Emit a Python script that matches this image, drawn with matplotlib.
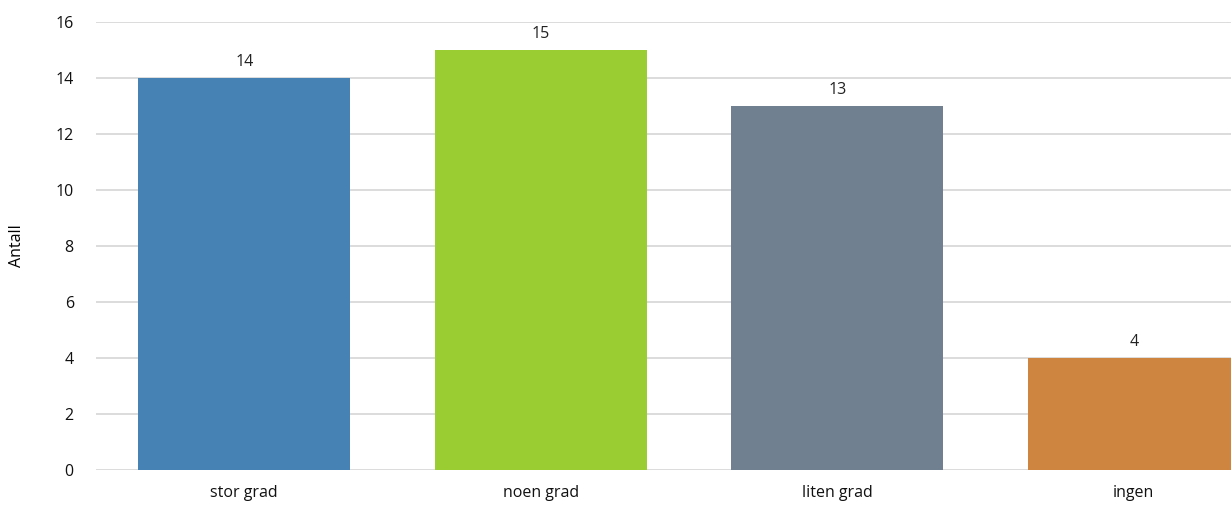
import matplotlib.pyplot as plt
import numpy as np

categories = ['stor grad', 'noen grad', 'liten grad', 'ingen']
values = [14, 15, 13, 4]
colors = ['#4682B4', '#9ACD32', '#708090', '#CD853F']
yticks = [0, 2, 4, 6, 8, 10, 12, 14, 16]

plt.rcParams['font.family'] = ['Open Sans', 'DejaVu Sans']

fig = plt.figure(figsize=(12.31, 5.13), dpi=100)
# plot area runs off the right edge, as in the original
ax = fig.add_axes([96 / 1231, 43 / 513, 1186 / 1231, 448 / 513])

x = np.arange(len(categories))
bars = ax.bar(x, values, width=0.716, color=colors, zorder=3)
for b, v in zip(bars, values):
    ax.text(b.get_x() + b.get_width() / 2, v + 0.3, str(v),
            ha='center', va='bottom', fontsize=11.5, color='#222222')

ax.set_xlim(-0.5, 3.5)
ax.set_ylim(0, 16)
ax.set_yticks(yticks)
ax.set_xticks(x)
ax.set_xticklabels(categories)
ax.tick_params(axis='both', length=0, labelsize=11.5, colors='#111111')
ax.tick_params(axis='y', pad=16)
ax.tick_params(axis='x', pad=11)
ax.grid(axis='y', color='#D9D9D9', linewidth=1.3, zorder=0)
for s in ax.spines.values():
    s.set_visible(False)
ax.set_ylabel('Antall', fontsize=11.5, labelpad=22)

plt.savefig('out.png', dpi=100)
plt.close()
